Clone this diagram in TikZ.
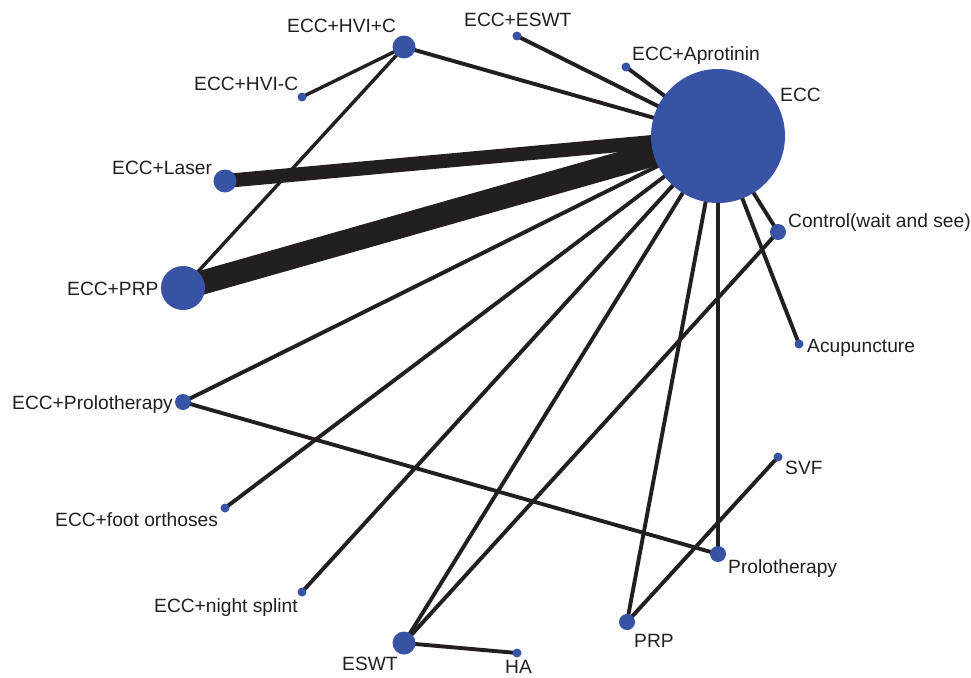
\documentclass[tikz,border=0pt]{standalone}
\usepackage{fontspec}
\setmainfont{Liberation Sans}
\definecolor{nodeblue}{HTML}{3953A4}
\definecolor{edgeblack}{HTML}{231F20}
\begin{document}
\begin{tikzpicture}[x=1pt,y=-1pt,
  tnode/.style={circle,draw=none,inner sep=0pt,minimum size=#1},
  edge/.style={draw=edgeblack,line width=3.9pt},
  lbl/.style={anchor=base west,inner sep=0pt,text=edgeblack,font=\fontsize{19.2}{22}\selectfont}]
\path[use as bounding box,fill=white] (0,0) rectangle (971,677);
% nodes (positions)
\node[tnode=134pt] (ecc) at (718,136) {};
\node[tnode=23pt] (hvic) at (404,47) {};
\node[tnode=9pt] (eccesw) at (517,36) {};
\node[tnode=9pt] (aprot) at (626,67) {};
\node[tnode=9pt] (hvim) at (302,97) {};
\node[tnode=23pt] (laser) at (225,181) {};
\node[tnode=44pt] (eccprp) at (183,288) {};
\node[tnode=16pt] (ctrl) at (778,232) {};
\node[tnode=9pt] (acu) at (799,344) {};
\node[tnode=16pt] (eccprolo) at (183,402) {};
\node[tnode=9pt] (svf) at (778,457) {};
\node[tnode=9pt] (foot) at (225,508) {};
\node[tnode=16pt] (prolo) at (718,554) {};
\node[tnode=9pt] (night) at (302,592) {};
\node[tnode=23pt] (eswt) at (404,643) {};
\node[tnode=9pt] (ha) at (517,653) {};
\node[tnode=16pt] (prp) at (627,622) {};
% edges
\draw[edge] (hvic.center) -- (ecc.center);
\draw[edge,line width=3.4pt] (hvic.center) -- (hvim.center);
\draw[edge,line width=3.4pt] (hvic.center) -- (eccprp.center);
\draw[edge] (eccesw.center) -- (ecc.center);
\draw[edge] (aprot.center) -- (ecc.center);
\draw[edge,line width=14pt] (laser.center) -- (ecc.center);
\draw[edge,line width=24pt] (eccprp.center) -- (ecc.center);
\draw[edge] (eccprolo.center) -- (ecc.center);
\draw[edge] (eccprolo.center) -- (prolo.center);
\draw[edge] (foot.center) -- (ecc.center);
\draw[edge] (night.center) -- (ecc.center);
\draw[edge] (eswt.center) -- (ecc.center);
\draw[edge] (eswt.center) -- (ctrl.center);
\draw[edge] (eswt.center) -- (ha.center);
\draw[edge] (prp.center) -- (ecc.center);
\draw[edge] (prp.center) -- (svf.center);
\draw[edge] (prolo.center) -- (ecc.center);
\draw[edge] (ctrl.center) -- (ecc.center);
\draw[edge] (acu.center) -- (ecc.center);
% discs on top
\foreach \n/\s in {ecc/134,hvic/23,eccesw/9,aprot/9,hvim/9,laser/23,eccprp/44,ctrl/16,acu/9,eccprolo/16,svf/9,foot/9,prolo/16,night/9,eswt/23,ha/9,prp/16}
  \fill[nodeblue] (\n.center) circle[radius=\s/2];
% labels
\node[lbl] (l1) at (287,33) {ECC+HVI+C};
\node[lbl] (l2) at (464,27) {ECC+ESWT};
\node[lbl] (l3) at (632,60) {ECC+Aprotinin};
\node[lbl] (l4) at (780,101) {ECC};
\node[lbl] (l5) at (194,90) {ECC+HVI-C};
\node[lbl] (l6) at (112,174) {ECC+Laser};
\node[lbl] (l7) at (67,295) {ECC+PRP};
\node[lbl] (l8) at (788,227) {Control(wait and see)};
\node[lbl] (l9) at (807,352) {Acupuncture};
\node[lbl] (l10) at (12,409) {ECC+Prolotherapy};
\node[lbl] (l11) at (785,474) {SVF};
\node[lbl] (l12) at (55,526) {ECC+foot orthoses};
\node[lbl] (l13) at (728,573) {Prolotherapy};
\node[lbl] (l14) at (154,612) {ECC+night splint};
\node[lbl] (l15) at (342,670) {ESWT};
\node[lbl] (l16) at (505,673) {HA};
\node[lbl] (l17) at (634,647) {PRP};
\end{tikzpicture}
\end{document}
